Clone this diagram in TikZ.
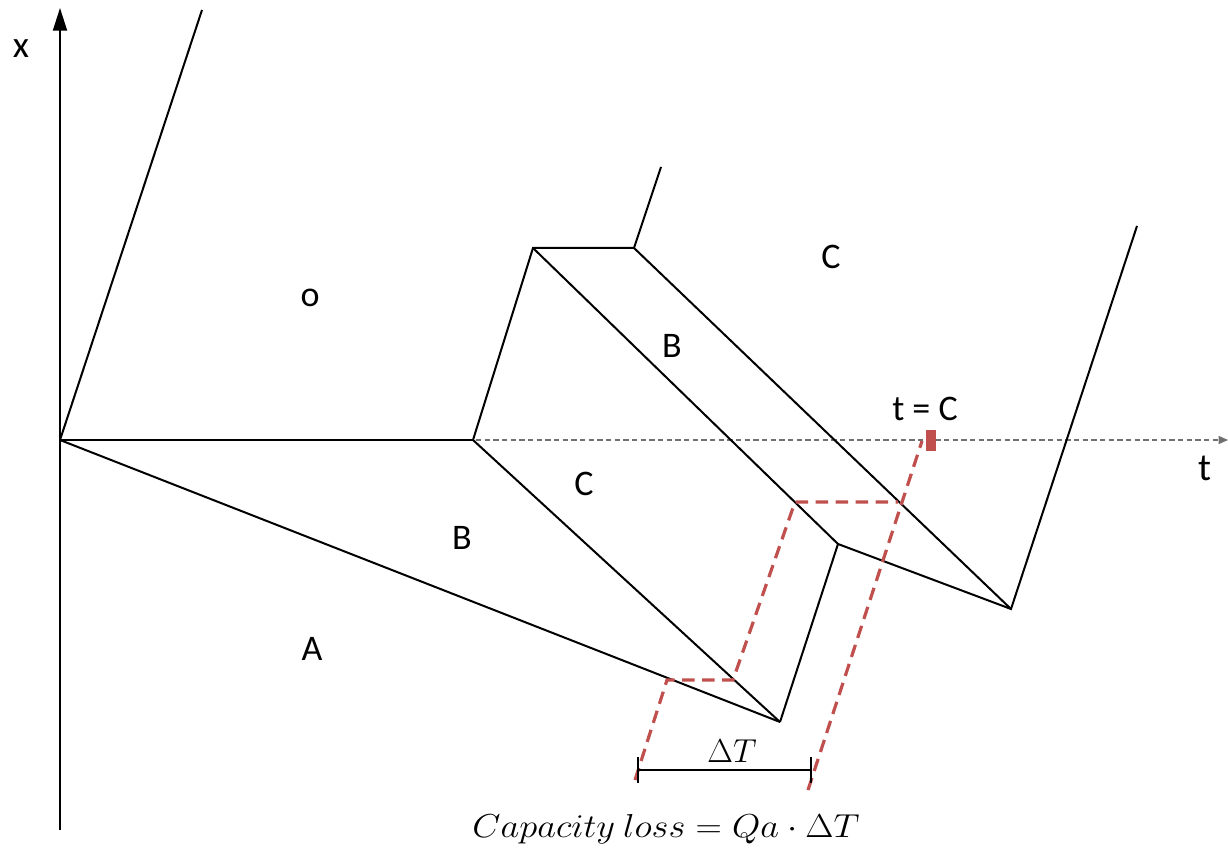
\documentclass[tikz,border=0pt]{standalone}
\usepackage{fontspec}
\setmainfont{Carlito}
\usetikzlibrary{arrows.meta,calc}
\definecolor{redd}{HTML}{C0504D}
\definecolor{axgray}{HTML}{707070}
\tikzset{
  wave/.style={line width=1.5pt, black, line join=miter},
  redline/.style={line width=2.4pt, redd, dash pattern=on 9.5pt off 5.5pt},
  region/.style={font=\fontsize{27}{32}\selectfont, inner sep=0pt},
  axlabel/.style={font=\fontsize{28}{32}\selectfont, inner sep=0pt},
  mathlabel/.style={inner sep=0pt}
}
\begin{document}
\begin{tikzpicture}[x=0.75pt, y=-0.75pt]
\useasboundingbox (0,0) rectangle (1228,848);
% named points
\coordinate (O) at (60,440);
\coordinate (xtop) at (60,8);
\coordinate (xbot) at (60,830);
\coordinate (tend) at (1228,440);
\coordinate (P1) at (202,10);
\coordinate (P2) at (473,440);
\coordinate (P3) at (533,248);
\coordinate (P4) at (634,248);
\coordinate (P5) at (661,167);
\coordinate (P6) at (838,544);
\coordinate (P7) at (780,722);
\coordinate (P8) at (1011,609);
\coordinate (P9) at (1137,226);
% red dashed points
\coordinate (R1) at (635,780);
\coordinate (R2) at (667,680);
\coordinate (R3) at (733,680);
\coordinate (R4) at (795,502);
\coordinate (R5) at (898,502);
\coordinate (R6) at (922,441);
\coordinate (R7) at (808,790);
% delta T bar
\coordinate (D1) at (638,770);
\coordinate (D2) at (811,770);
\coordinate (D1a) at (638,757);
\coordinate (D1b) at (638,783);
\coordinate (D2a) at (811,757);
\coordinate (D2b) at (811,783);

% t axis
\draw[axgray, line width=1pt, dash pattern=on 4pt off 2.5pt, -{Triangle[width=6pt,length=7pt]}] (O) -- (tend);
% x axis
\draw[line width=1.5pt, -{Triangle[width=10.5pt,length=17pt]}] (xbot) -- (xtop);

% waves
\draw[wave] (O) -- (P1);
\draw[wave] (O) -- (P2);
\draw[wave] (O) -- (P7);
\draw[wave] (P2) -- (P7);
\draw[wave] (P2) -- (P3) -- (P4) -- (P5);
\draw[wave] (P3) -- (P6);
\draw[wave] (P4) -- (P8);
\draw[wave] (P7) -- (P6) -- (P8) -- (P9);

% red construction
\draw[redline] (R1) -- (R2) -- (R3) -- (R4) -- (R5);
\draw[redline] (R7) -- (R6);
\fill[redd] (926,430) rectangle (936,451);

% delta T bar
\draw[line width=1.5pt] (D1) -- (D2);
\draw[line width=1.5pt] (D1a) -- (D1b);
\draw[line width=1.5pt] (D2a) -- (D2b);

% labels
\node[axlabel] (lx) at (21,49) {x};
\node[font=\fontsize{29}{34}\selectfont, inner sep=0pt] (lt) at (1205,468) {t};
\node[font=\fontsize{27}{32}\selectfont, inner sep=0pt] (ltc) at (925,409) {t = C};
\node[region] (lo) at (310,298) {o};
\node[region] (lC1) at (831,257) {C};
\node[region] (lB1) at (672,346) {B};
\node[region] (lC2) at (584,484) {C};
\node[region] (lB2) at (462,538) {B};
\node[region] (lA) at (312,649) {A};
\node[mathlabel, font=\fontsize{24}{28}\selectfont] (ldt) at (732,751) {$\Delta T$};
\node[mathlabel, font=\fontsize{24}{28}\selectfont] (lcap) at (666,829) {\scalebox{1.1}[1]{$Capacity\ loss = Qa \cdot \Delta T$}};
\end{tikzpicture}
\end{document}
